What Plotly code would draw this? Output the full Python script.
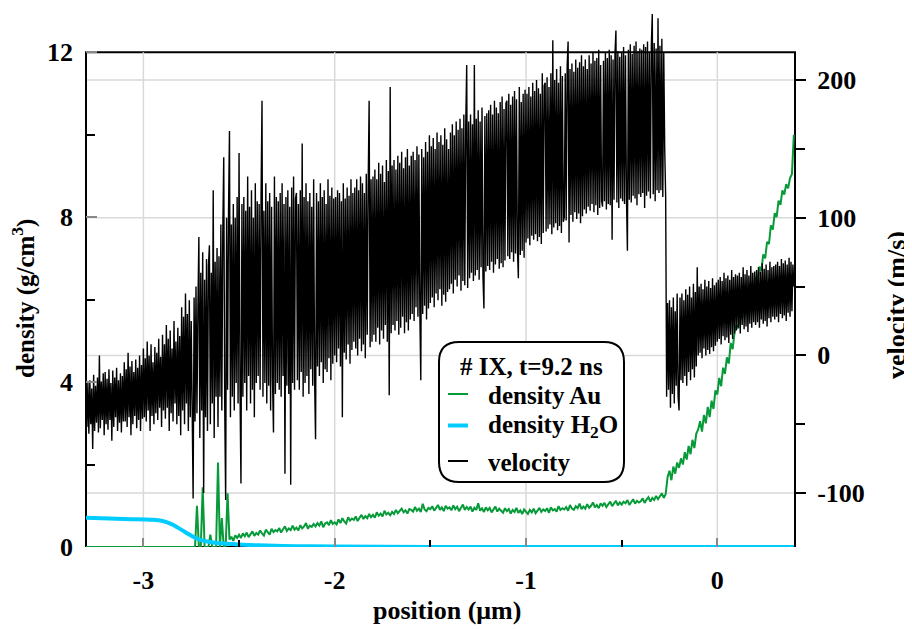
import plotly.graph_objects as go

# ---------------- data ----------------
V_X0, V_STEP = -3.30, 0.005     # velocity samples: first position, spacing (um)
A_X0, A_STEP = -3.30, 0.01      # Au density samples: first position, spacing (um)

velocity = [
    -15, -52, -20, -57, -18, -50, -24, -68, -14, -55, -22, -49, -16, -56, 0, -53, -19, -47, -13, -58,
    -12, -50, -17, -54, -10, -47, -20, -62, -11, -52, -16, -45, -9, -55, -18, -49, -13, -56, -15, -48,
    -5, -48, -10, -52, 2, -45, -8, -58, -4, -50, -12, -44, -3, -53, -9, -47, 0, -55, -7, -46,
    5, -45, -2, -48, 10, -40, 0, -55, 8, -44, -5, -50, 6, -42, 2, -47, 12, -38, -1, -52,
    15, -40, 8, -46, 22, -38, 12, -55, 18, -42, 5, -48, 25, -35, 10, -50, 20, -44, 14, -58,
    35, -40, 28, -50, 45, -35, 30, -55, 40, -45, 25, -38, -104, 42, -48, 50, -42, 35, 86, -60,
    60, -40, 75, -100, 55, -45, 70, -55, 65, 80, -50, 60, -35, 120, -60, 68, -30, 78, -52, 72,
    -30, 95, -40, 90, 144, -35, -105, 100, -25, 105, 163, -45, 95, -30, 110, -40, 100, -20, 115, -35,
    147, -25, -93, 110, -30, 115, -20, 105, -40, 130, -15, 108, -35, 120, -25, 100, -45, 125, -20, 112,
    -15, 110, -25, 115, 185, -30, 105, -20, 125, -35, 112, -22, 118, -40, 108, -18, -56, 130, -28, 115,
    -20, 112, -25, 118, -30, 125, -15, 110, -86, 115, -22, 120, -28, 108, -94, 122, -20, 130, -25, 114,
    118, -18, 110, -25, 120, -12, 154, -30, 115, -20, 125, -15, 112, -28, 118, -10, 108, -22, 128, -18,
    -61, 118, -8, 112, -15, 125, -5, 115, -20, 120, -10, 110, -12, 128, -2, 116, -18, 122, -6, 114,
    0, 115, -5, 120, 5, 118, -8, 112, -45, 125, 2, 114, -3, 122, 8, 116, -6, 128, 4, 118,
    10, 122, 5, 128, 0, 120, 12, 130, 3, 125, 8, 118, -2, 132, 15, 124, 185, 6, 128, 10,
    130, 15, 135, 10, 128, 20, 140, 8, 132, 18, 138, 12, 126, 22, 142, 10, 134, -29, 195, 16,
    138, 22, 142, 18, 135, 25, 145, 15, 140, 20, 148, 28, 136, 16, 144, 24, 150, 18, 138, 26,
    145, 30, 148, 25, 142, 35, 152, 28, 146, 32, -18, 150, 30, 144, 36, 155, 26, 148, 34, 160,
    38, 152, 42, 158, 35, 150, 45, 162, 40, 155, 48, 160, 36, 153, 44, 165, 39, 157, 46, 150,
    48, 162, 52, 168, 45, 160, 55, 170, 50, 164, 58, 172, 47, 165, 54, 175, 51, 168, 211, 49,
    170, 56, 175, 60, 168, 54, 211, 58, 172, 62, 178, 55, 170, 64, 180, 57, 34, 174, 61, 176,
    65, 178, 62, 182, 68, 175, 60, 185, 66, 180, 70, 176, 63, 184, 67, 188, 64, 179, 69, 183,
    185, 72, 190, 70, 182, 75, 188, 68, 192, 74, 186, 78, 56, 195, 73, 184, 76, 190, 71, 193,
    82, 190, 85, 195, 80, 188, 87, 198, 84, 192, 88, 200, 83, 194, 86, 190, 81, 205, 89, 196,
    198, 90, 202, 92, 195, 95, 205, 88, 229, 93, 200, 96, 208, 91, 198, 94, 210, 89, 203, 97,
    100, 205, 98, 210, 228, 82, 208, 102, 212, 97, 206, 104, 215, 99, 209, 103, 213, 96, 218, 101,
    210, 106, 215, 103, 208, 108, 218, 105, 212, 110, 220, 104, 214, 109, 216, 102, 222, 107, 211, 112,
    108, 214, 112, 220, 106, 216, 110, 222, 109, 218, 84, 215, 113, 219, 236, 111, 221, 107, 217, 114,
    220, 112, 224, 110, 218, 115, 76, 222, 113, 226, 111, 219, 116, 225, 114, 228, 109, 221, 117, 223,
    115, 222, 118, 226, 107, 224, 116, 228, 119, 220, 114, 225, 248, 117, 227, 112, 223, 120, 245, 118,
    225, 120, 230, 115, 220, 150, 115,
    -30, 38, -25, 40, -38, 35, -28, 42, -35, 32, -22, 45, -30,
    -40, 42, -18, 45, -20, 40, -15, 48, -22, 44, -12, 50, -18, 42, -10, 52, -16, 46, -8, 64,
    0, 50, 2, 52, -2, 48, 5, 55, 0, 50, 4, 54, 1, 49, 6, 56, 3, 51, 7, 53,
    10, 55, 12, 57, 8, 54, 14, 60, 11, 56, 13, 58, 9, 55, 15, 62, 12, 57, 16, 59,
    18, 58, 20, 60, 16, 57, 22, 64, 19, 59, 21, 62, 17, 58, 23, 65, 20, 60, 24, 61,
    22, 62, 24, 64, 20, 61, 26, 67, 23, 63, 25, 66, 21, 62, 27, 68, 24, 64, 28, 65,
    26, 66, 28, 68, 24, 65, 30, 70, 27, 67, 29, 69, 25, 66, 31, 71, 28, 68, 32, 66, 50,
]

density_au = [0.0] * 58 + [
    1.0, 0, 0, 1.45, 0, 0, 0, 0.3, 0, 0, 0, 2.05, 0, 0.7, 0, 0, 1.3,
    0.18, 0.25, 0.15, 0.28, 0.22,
    0.30, 0.22, 0.33, 0.26, 0.35, 0.24, 0.31, 0.38, 0.27, 0.34,
    0.30, 0.40, 0.33, 0.28, 0.42, 0.35, 0.30, 0.44, 0.36, 0.41,
    0.38, 0.46, 0.35, 0.43, 0.50, 0.39, 0.45, 0.41, 0.52, 0.42,
    0.47, 0.40, 0.53, 0.45, 0.50, 0.58, 0.44, 0.52, 0.49, 0.56,
    0.50, 0.58, 0.52, 0.62, 0.48, 0.57, 0.60, 0.53, 0.65, 0.56,
    0.60, 0.55, 0.67, 0.58, 0.70, 0.62, 0.57, 0.72, 0.64, 0.69,
    0.66, 0.74, 0.63, 0.71, 0.78, 0.68, 0.75, 0.70, 0.80, 0.72,
    0.78, 0.71, 0.84, 0.76, 0.81, 0.74, 0.88, 0.79, 0.83, 0.77,
    0.85, 0.80, 0.90, 0.82, 0.87, 0.93, 0.84, 0.89, 0.81, 0.92,
    0.90, 0.86, 0.97, 0.88, 0.93, 0.85, 1.05, 0.91, 0.87, 0.95,
    0.92, 0.99, 0.88, 0.95, 1.02, 0.90, 0.96, 0.87, 1.00, 0.93,
    0.96, 0.89, 1.01, 0.92, 0.98, 0.87, 0.95, 1.03, 0.90, 0.97,
    0.91, 0.98, 0.86, 0.95, 0.90, 1.06, 0.88, 0.94, 0.85, 0.96,
    0.89, 0.95, 0.84, 0.92, 0.98, 0.86, 0.93, 0.88, 0.83, 0.94,
    0.87, 0.92, 0.81, 0.90, 0.85, 0.95, 0.83, 0.89, 0.80, 0.91,
    0.86, 0.80, 0.90, 0.84, 0.93, 0.82, 0.88, 0.95, 0.85, 0.91,
    0.87, 0.94, 0.83, 0.96, 0.89, 0.92, 0.86, 0.99, 0.90, 0.94,
    0.91, 0.97, 0.88, 1.02, 0.93, 0.90, 0.99, 0.94, 1.05, 0.92,
    0.98, 0.93, 1.04, 0.95, 1.00, 1.08, 0.96, 1.02, 0.94, 1.06,
    1.00, 1.07, 0.97, 1.04, 1.10, 0.99, 1.05, 1.12, 1.01, 1.08,
    1.03, 1.10, 1.06, 1.14, 1.02, 1.09, 1.16, 1.05, 1.12, 1.08,
    1.11, 1.18, 1.07, 1.15, 1.21, 1.10, 1.19, 1.14, 1.24, 1.16,
    1.22, 1.30, 1.19, 1.28,
    1.70, 1.85, 1.62, 1.95, 1.78, 2.05,
    1.92, 2.15, 2.00, 2.30, 2.12, 2.45, 2.25, 2.60, 2.40, 2.75,
    2.85, 3.05, 2.80, 3.20, 3.00, 3.40, 3.15, 3.55, 3.35, 3.80,
    3.70, 4.10, 3.90, 4.35, 4.20, 4.60, 4.45, 4.95, 4.80, 5.20,
    5.40, 5.30, 5.75, 5.55, 6.00, 5.85, 6.20, 6.05, 6.40, 6.25,
    6.55, 6.45, 6.80, 6.70, 7.10, 7.00, 7.40, 7.35, 7.80, 7.70,
    8.10, 8.00, 8.40, 8.30, 8.65, 8.55, 8.80, 8.70, 8.95, 9.05, 10.00,
]

h2o_position = [-3.30, -3.10, -2.95, -2.90, -2.85, -2.82, -2.78, -2.74, -2.70,
                -2.65, -2.60, -2.50, -2.40, -2.20, -2.00, -1.50, 0.40]
h2o_density = [0.71, 0.68, 0.66, 0.63, 0.55, 0.47, 0.36, 0.25, 0.17,
               0.12, 0.09, 0.06, 0.04, 0.02, 0.01, 0.0, 0.0]

X_TICKS = [-3, -2, -1, 0]
X_TICK_TEXT = ["-3", "-2", "-1", "0"]
X_MINOR = [-2.5, -1.5, -0.5]
DENS_TICKS = [0, 4, 8, 12]
DENS_MINOR = [2, 6, 10]
VEL_TICKS = [-100, 0, 100, 200]
VEL_TICK_TEXT = ["-100", "0", "100", "200"]
VEL_MINOR = [-50, 50, 150]

LEGEND_TITLE = "# IX, t=9.2 ns"
NAMES = ["density Au", "density H<sub>2</sub>O", "velocity"]

# ---------------- styling / geometry ----------------
# The page places the figure 8 px from the window's top-left corner,
# so the figure is 8 px smaller and all pixel positions below are window pixels.
OFF = 8
W, H = 912 - OFF, 629 - OFF
PLOT_L, PLOT_R, PLOT_T, PLOT_B = 86, 795, 8, 547
ML, MR, MT, MB = PLOT_L - OFF, 912 - PLOT_R, PLOT_T - OFF, 629 - PLOT_B
PW, PH = PLOT_R - PLOT_L, PLOT_B - PLOT_T
FONT = "Liberation Serif"
GREEN = "#079a38"
CYAN = "#00ccff"
GRID = "#d9d9d9"

X_RANGE = [-3.30, 0.406]
DENS_PER_PX = 12 / (547 - 52.3)
VEL_PER_PX = 100 / 137.65
DENS_RANGE = [0, PH * DENS_PER_PX]
VEL_RANGE = [-139.2, -139.2 + PH * VEL_PER_PX]


def px(xp):
    return (xp - PLOT_L) / PW


def py(yp):
    return (PLOT_B - yp) / PH


x_vel = [round(V_X0 + V_STEP * i, 4) for i in range(len(velocity))]
x_au = [round(A_X0 + A_STEP * i, 4) for i in range(len(density_au))]

fig = go.Figure()
fig.add_trace(go.Scatter(x=x_au, y=density_au, mode="lines", name=NAMES[0],
                         line=dict(color=GREEN, width=2), yaxis="y"))
fig.add_trace(go.Scatter(x=h2o_position, y=h2o_density, mode="lines", name=NAMES[1],
                         line=dict(color=CYAN, width=4, shape="spline"), yaxis="y"))
fig.add_trace(go.Scatter(x=x_vel, y=velocity, mode="lines", name=NAMES[2],
                         line=dict(color="black", width=1.4), yaxis="y2"))

shapes = []
for xv in X_TICKS:
    shapes.append(dict(type="line", xref="x", yref="y", x0=xv, x1=xv, y0=0, y1=12,
                       line=dict(color=GRID, width=1.5), layer="below"))
for vv in VEL_TICKS:
    shapes.append(dict(type="line", xref="paper", yref="y2", x0=0, x1=1, y0=vv, y1=vv,
                       line=dict(color=GRID, width=1.5), layer="below"))
shapes.append(dict(type="rect", xref="paper", yref="y", x0=0, x1=1, y0=0, y1=12,
                   line=dict(color="black", width=2), layer="below"))

# rounded legend box
L, R, T, B, r = 439, 624, 342, 482, 20
pts = [("M", L + r, T), ("L", R - r, T), ("Q", R, T, R, T + r), ("L", R, B - r),
       ("Q", R, B, R - r, B), ("L", L + r, B), ("Q", L, B, L, B - r), ("L", L, T + r),
       ("Q", L, T, L + r, T)]
path = ""
for p in pts:
    coords = p[1:]
    segs = [f"{px(coords[k]):.5f},{py(coords[k + 1]):.5f}" for k in range(0, len(coords), 2)]
    path += p[0] + " " + " ".join(segs) + " "
path += "Z"
shapes.append(dict(type="path", xref="paper", yref="paper", path=path,
                   fillcolor="white", line=dict(color="black", width=2), layer="above"))

sample_y = [394, 425.5, 461]
sample_col = [GREEN, CYAN, "black"]
sample_w = [2, 4, 2]
for yy, c, w in zip(sample_y, sample_col, sample_w):
    shapes.append(dict(type="line", xref="paper", yref="paper", x0=px(448), x1=px(468),
                       y0=py(yy), y1=py(yy), line=dict(color=c, width=w), layer="above"))

bold = dict(family=FONT, color="black", weight="bold")
annotations = [
    dict(text=LEGEND_TITLE, x=px(531), y=py(366), xref="paper", yref="paper",
         showarrow=False, xanchor="center", yanchor="middle", font=dict(size=25, **bold)),
]
for yy, name in zip(sample_y, NAMES):
    annotations.append(dict(text=name, x=px(486), y=py(yy + 1), xref="paper", yref="paper",
                            showarrow=False, xanchor="left", yanchor="middle",
                            font=dict(size=25, **bold)))
annotations += [
    dict(text="density (g/cm<sup>3</sup>)", x=px(23), y=py(299), xref="paper", yref="paper",
         showarrow=False, textangle=-90, xanchor="center", yanchor="middle",
         font=dict(size=25, **bold)),
    dict(text="velocity (m/s)", x=px(897), y=py(305), xref="paper", yref="paper",
         showarrow=False, textangle=-90, xanchor="center", yanchor="middle",
         font=dict(size=26, **bold)),
    dict(text="position (\u03bcm)", x=px(447), y=py(610), xref="paper", yref="paper",
         showarrow=False, xanchor="center", yanchor="middle",
         font=dict(size=26, **bold)),
]

tickfont = dict(size=26, **bold)
fig.update_layout(
    width=W, height=H,
    margin=dict(l=ML, r=MR, t=MT, b=MB, pad=0),
    paper_bgcolor="white", plot_bgcolor="white",
    showlegend=False,
    shapes=shapes, annotations=annotations,
    xaxis=dict(range=X_RANGE, tickmode="array", tickvals=X_TICKS, ticktext=X_TICK_TEXT,
               ticks="inside", ticklen=9, tickwidth=2, tickcolor="#888888",
               minor=dict(tickmode="array", tickvals=X_MINOR, ticks="inside", ticklen=7,
                          tickwidth=2, tickcolor="black", showgrid=False),
               showgrid=False, zeroline=False, showline=False, tickfont=tickfont,
               ticklabelstandoff=15),
    yaxis=dict(range=DENS_RANGE, tickmode="array", tickvals=DENS_TICKS,
               ticks="inside", ticklen=11, tickwidth=2, tickcolor="#888888",
               minor=dict(tickmode="array", tickvals=DENS_MINOR, ticks="inside", ticklen=9,
                          tickwidth=2, tickcolor="black", showgrid=False),
               showgrid=False, zeroline=False, showline=False, tickfont=tickfont,
               ticklabelstandoff=12),
    yaxis2=dict(range=VEL_RANGE, overlaying="y", side="right", anchor="x",
                tickmode="array", tickvals=VEL_TICKS, ticktext=VEL_TICK_TEXT,
                ticks="outside", ticklen=10, tickwidth=2, tickcolor="black",
                minor=dict(tickmode="array", tickvals=VEL_MINOR, ticks="outside", ticklen=9,
                           tickwidth=2, tickcolor="black", showgrid=False),
                showgrid=False, zeroline=False, showline=False, tickfont=tickfont,
                ticklabelstandoff=6),
)

fig.write_html("out.html")
